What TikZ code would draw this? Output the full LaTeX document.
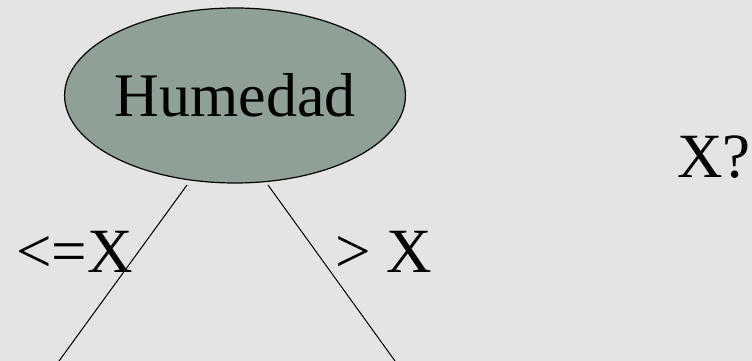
\documentclass[tikz,border=0pt]{standalone}
\usepackage{fontspec}
\setmainfont{Liberation Serif}
\usetikzlibrary{shapes.geometric}
\definecolor{bgc}{RGB}{228,228,228}
\definecolor{nodefill}{RGB}{143,161,150}
\begin{document}
\begin{tikzpicture}[x=1pt,y=1pt,
  lbl/.style={anchor=base west,inner sep=0pt,font=\fontsize{63}{70}\selectfont},
  edge/.style={draw=black,line width=1pt}]
\fill[bgc] (0,0) rectangle (752,361);
\useasboundingbox (0,0) rectangle (752,361);
\node[ellipse,draw=black,line width=1.2pt,fill=nodefill,minimum width=322pt,minimum height=175pt,inner sep=0pt,font=\fontsize{62}{70}\selectfont] (hum) at (235,265.5) {\raisebox{-3pt}{Humedad}};
\coordinate (la) at (187,176);
\coordinate (lb) at (59,0);
\coordinate (ra) at (268,176);
\coordinate (rb) at (395,0);
\draw[edge] (la) -- (lb);
\draw[edge] (ra) -- (rb);
\node[lbl] (le) at (16,88) {<=X};
\node[lbl] (gt) at (335,88) {> X};
\node[lbl] (xq) at (677,183) {X?};
\end{tikzpicture}
\end{document}
